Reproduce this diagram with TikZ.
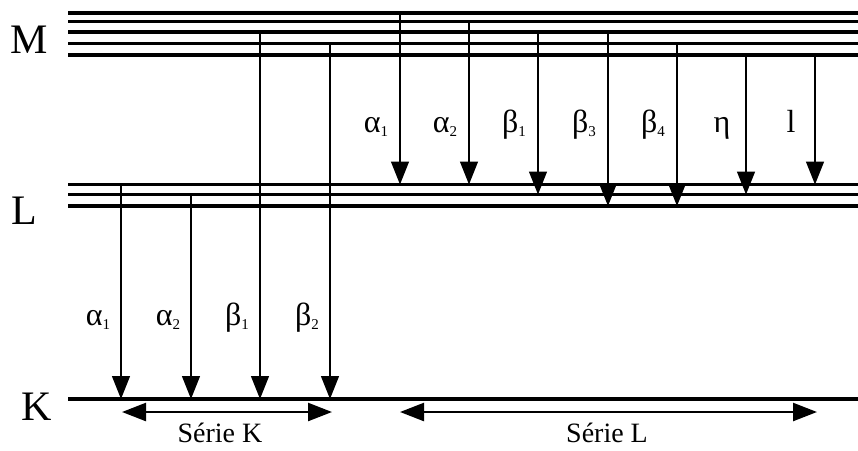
\documentclass[tikz,border=0pt]{standalone}
\usepackage{fontspec}
\setmainfont{Liberation Serif}
\usetikzlibrary{arrows.meta}

\newcommand{\gsub}[2]{#1\raisebox{-0.3ex}{\fontsize{15}{15}\selectfont #2}}

\begin{document}
\begin{tikzpicture}[x=1pt, y=-1pt]
    \tikzstyle{level}=[line width=3.4pt]
    \tikzstyle{trans}=[line width=1.4pt,-{Triangle[length=23pt,width=18pt]}]
    \tikzstyle{serie}=[line width=2.4pt,{Triangle[length=24pt,width=18pt]}-{Triangle[length=24pt,width=18pt]}]
    \tikzstyle{glabel}=[font=\fontsize{32}{34}\selectfont, anchor=base, inner sep=0pt]
    \tikzstyle{shell}=[font=\fontsize{42}{44}\selectfont, anchor=base, inner sep=0pt]
    \tikzstyle{stitle}=[font=\fontsize{28}{30}\selectfont, anchor=base, inner sep=0pt]

    \useasboundingbox (0,0) rectangle (858,450);

    % niveaux
    \foreach \n/\y in {M1/13, M2/21.5, M3/32, M4/43.5, M5/55, L1/184.5, L2/194.5, L3/206, K/399} {
        \coordinate (\n) at (68,\y);
        \coordinate (\n e) at (858,\y);
        \draw[level] (\n) -- (\n e);
    }

    \node[shell] (mshell) at (29,53) {M};
    \node[shell] (lshell) at (24,224) {L};
    \node[shell] (kshell) at (37,420) {K};

    % serie L
    \foreach \x/\s/\e/\t in {400/M1/L1/{\gsub{α}{1}}, 469/M2/L1/{\gsub{α}{2}}, 538/M3/L2/{\gsub{β}{1}},
                             608/M3/L3/{\gsub{β}{3}}, 677/M4/L3/{\gsub{β}{4}}, 746/M5/L2/{η}, 815/M5/L1/{l}} {
        \coordinate (ta\x) at (\x,0 |- \s);
        \coordinate (tb\x) at (\x,0 |- \e);
        \draw[trans] (ta\x) -- (tb\x);
        \node[glabel] (lab\x) at ({\x-24},132) {\t};
    }

    % serie K
    \foreach \x/\s/\t in {121/L1/{\gsub{α}{1}}, 191/L2/{\gsub{α}{2}}, 260/M3/{\gsub{β}{1}}, 330/M4/{\gsub{β}{2}}} {
        \coordinate (ta\x) at (\x,0 |- \s);
        \coordinate (tb\x) at (\x,0 |- K);
        \draw[trans] (ta\x) -- (tb\x);
        \node[glabel] (lab\x) at ({\x-23},325) {\t};
    }

    \coordinate (sk1) at (122,412);
    \coordinate (sk2) at (332,412);
    \coordinate (sl1) at (400,412);
    \coordinate (sl2) at (817,412);
    \draw[serie] (sk1) -- (sk2);
    \draw[serie] (sl1) -- (sl2);
    \node[stitle] (sktitle) at (220,442) {Série K};
    \node[stitle] (sltitle) at (607,442) {Série L};

\end{tikzpicture}
\end{document}
